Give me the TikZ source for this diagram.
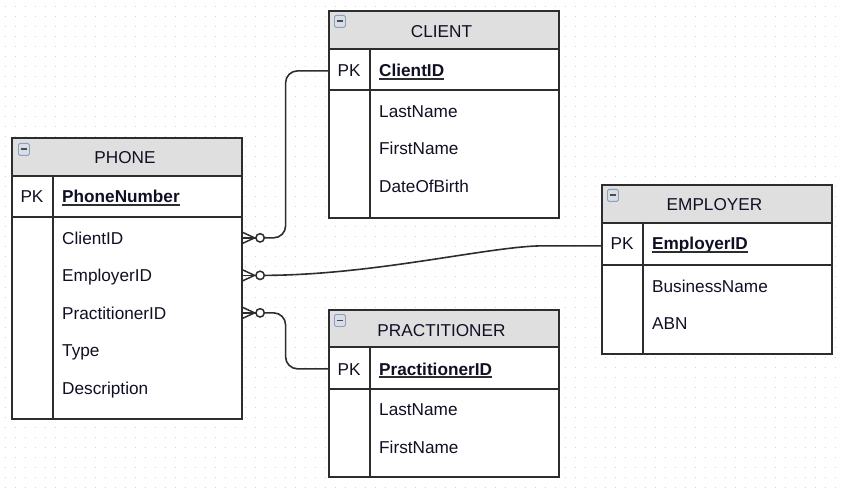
\documentclass[tikz,border=0pt]{standalone}
\usepackage{fontspec}
\setmainfont{Liberation Sans}
\usetikzlibrary{positioning}
\definecolor{headgrey}{RGB}{223,223,223}
\definecolor{edgegrey}{RGB}{45,45,45}
\definecolor{inkblue}{RGB}{16,16,36}
\definecolor{dotgrey}{RGB}{212,212,212}
\definecolor{iconedge}{RGB}{140,160,185}
\definecolor{iconfill}{RGB}{215,222,232}
\tikzset{%
  tablebox/.style={rectangle,draw=edgegrey,fill=white,line width=1.6pt,anchor=north west,inner sep=0pt},
  tablehead/.style={tablebox,fill=headgrey},
  rowline/.style={draw=edgegrey,line width=1.4pt},
  minusicon/.style={rectangle,rounded corners=1.5pt,draw=iconedge,fill=iconfill,line width=0.8pt,
    minimum width=11pt,minimum height=12pt,inner sep=0pt,
    path picture={\draw[line width=1.8pt,edgegrey!85]
      ([xshift=-3.2pt]path picture bounding box.center) -- ([xshift=3.2pt]path picture bounding box.center);}},
  titletext/.style={anchor=base,inner sep=0pt,text=inkblue,font=\fontsize{17.2}{20}\selectfont},
  keytext/.style={titletext},
  fieldtext/.style={anchor=base west,inner sep=0pt,text=inkblue,font=\fontsize{17.2}{20}\selectfont},
  pktext/.style={fieldtext,font=\fontsize{17.2}{20}\selectfont\bfseries},
  ulline/.style={draw=edgegrey,line width=1.6pt},
  relline/.style={draw=edgegrey,line width=1.6pt,rounded corners=12pt},
  crowline/.style={draw=edgegrey,line width=1.5pt,sharp corners},
  griddots/.style={draw=dotgrey,line width=1pt,dash pattern=on 1pt off 9pt}
}
\newcommand\pkline[1]{\draw[ulline] ([yshift=-2pt]#1.base west) -- ([yshift=-2pt]#1.base east);}
\newcommand\manyopt[1]{%
  \draw[crowline] ([yshift=5.5pt]#1) -- ([xshift=12pt]#1) -- ([yshift=-5.5pt]#1);
  \draw[crowline] (#1) -- ([xshift=13pt]#1);
  \draw[crowline,fill=white] ([xshift=17.5pt]#1) circle (4.2pt);
}

\begin{document}
\begin{tikzpicture}[x=1pt,y=-1pt,node distance=6pt]
  \useasboundingbox (0,0) rectangle (841,489);
  % dotted grid
  \foreach \j in {0,...,48}
    \draw[griddots] (4.8,7+10*\j) -- (841,7+10*\j);

  % PHONE
  \node[tablebox,minimum width=230pt,minimum height=281pt] (phonebox) at (11,137) {};
  \node[tablehead,minimum width=230pt,minimum height=38pt] (phonehead) at (11,137) {};
  \node[minusicon,below right=6pt and 7pt of phonehead.north west] (phoneicon) {};
  \node[titletext] (phonetitle) at (125,163.5) {PHONE};
  \draw[rowline] (11,217) -- (241,217);
  \draw[rowline] (53,175) -- (53,418);
  \node[keytext] (phonepk) at (32,203) {PK};
  \node[pktext] (phonenumber) at (62,203) {PhoneNumber};
  \pkline{phonenumber}
  \node[fieldtext] (phoneclientid) at (62,244) {ClientID};
  \node[fieldtext] (phoneemployerid) at (62,281.5) {EmployerID};
  \node[fieldtext] (phonepractid) at (62,319) {PractitionerID};
  \node[fieldtext] (phonetype) at (62,356.5) {Type};
  \node[fieldtext] (phonedesc) at (62,394) {Description};

  % CLIENT
  \node[tablebox,minimum width=230pt,minimum height=207pt] (clientbox) at (328,10) {};
  \node[tablehead,minimum width=230pt,minimum height=38pt] (clienthead) at (328,10) {};
  \node[minusicon,below right=5pt and 6pt of clienthead.north west] (clienticon) {};
  \node[titletext] (clienttitle) at (441.5,37.3) {CLIENT};
  \draw[rowline] (328,90) -- (558,90);
  \draw[rowline] (370,48) -- (370,217);
  \node[keytext] (clientpk) at (349,77) {PK};
  \node[pktext] (clientid) at (379,77) {ClientID};
  \pkline{clientid}
  \node[fieldtext] (clientlast) at (379,117.3) {LastName};
  \node[fieldtext] (clientfirst) at (379,154.8) {FirstName};
  \node[fieldtext] (clientdob) at (379,192.3) {DateOfBirth};

  % EMPLOYER
  \node[tablebox,minimum width=230pt,minimum height=169pt] (employerbox) at (601,184) {};
  \node[tablehead,minimum width=230pt,minimum height=38pt] (employerhead) at (601,184) {};
  \node[minusicon,below right=5pt and 6pt of employerhead.north west] (employericon) {};
  \node[titletext] (employertitle) at (714.5,210.7) {EMPLOYER};
  \draw[rowline] (601,265) -- (831,265);
  \draw[rowline] (643,222) -- (643,353);
  \node[keytext] (employerpk) at (622,250) {PK};
  \node[pktext] (employerid) at (652,250) {EmployerID};
  \pkline{employerid}
  \node[fieldtext] (employername) at (652,292) {BusinessName};
  \node[fieldtext] (employerabn) at (652,329.5) {ABN};

  % PRACTITIONER
  \node[tablebox,minimum width=230pt,minimum height=167pt] (practbox) at (328,309) {};
  \node[tablehead,minimum width=230pt,minimum height=37pt] (practhead) at (328,309) {};
  \node[minusicon,below right=5pt and 6pt of practhead.north west] (practicon) {};
  \node[titletext] (practtitle) at (441.5,336) {PRACTITIONER};
  \draw[rowline] (328,389) -- (558,389);
  \draw[rowline] (370,346) -- (370,476);
  \node[keytext] (practpk) at (349,375) {PK};
  \node[pktext] (practid) at (379,375) {PractitionerID};
  \pkline{practid}
  \node[fieldtext] (practlast) at (379,415.5) {LastName};
  \node[fieldtext] (practfirst) at (379,453) {FirstName};

  % relationships
  \coordinate (fkclient) at ([yshift=3.5pt]phonebox.east |- phoneclientid.mid);
  \coordinate (fkemployer) at ([yshift=3.5pt]phonebox.east |- phoneemployerid.mid);
  \coordinate (fkpract) at ([yshift=3.5pt]phonebox.east |- phonepractid.mid);
  \coordinate (pkclient) at ([yshift=3.5pt]clientbox.west |- clientpk.mid);
  \coordinate (pkemployer) at ([yshift=1.5pt]employerbox.west |- employerpk.mid);
  \coordinate (pkpract) at ([yshift=3.5pt]practbox.west |- practpk.mid);

  \draw[relline] ([xshift=21pt]fkclient) -- ++(22,0) |- (pkclient);
  \draw[relline] ([xshift=21pt]fkemployer) .. controls ++(110,0) and ([xshift=-110pt]pkemployer) .. ([xshift=-46pt]pkemployer) -- (pkemployer);
  \draw[relline] ([xshift=21pt]fkpract) -- ++(22,0) |- (pkpract);
  \manyopt{fkclient}
  \manyopt{fkemployer}
  \manyopt{fkpract}
\end{tikzpicture}
\end{document}
